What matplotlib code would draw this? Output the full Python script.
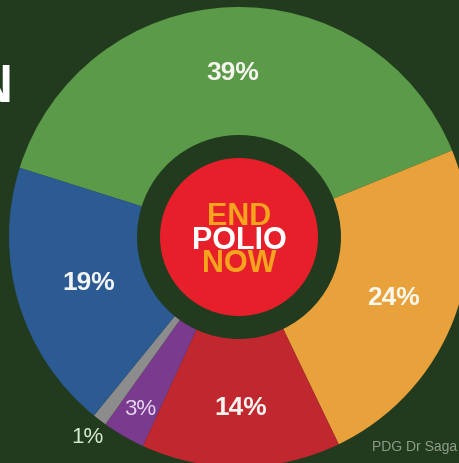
import matplotlib
matplotlib.use("Agg")
import matplotlib.pyplot as plt
import numpy as np
from matplotlib.patches import Circle

# Data
labels = ["39%", "24%", "14%", "3%", "1%", "19%"]
values = [39, 24, 14, 3, 1, 19]
colors = ["#5b9a49", "#e9a23b", "#c1272f", "#7a3a8e", "#8c8c8c", "#2c5a93"]
label_colors = ["#f4f6ee", "#fbf8ee", "#f6f2ee", "#e4d6f2", "#d6ead0", "#f2f4f6"]
label_dist = [0.72, 0.72, 0.74, 0.86, 1.09, 0.68]
label_size = [19, 19, 19, 16, 16, 19]
label_weight = ["bold", "bold", "bold", "normal", "normal", "bold"]

BG = "#223b1e"
W, H = 460, 464
fig = plt.figure(figsize=(W / 100, H / 100), dpi=100, facecolor=BG)
ax = fig.add_axes([0, 0, 1, 1])
ax.set_facecolor(BG)

cx, cy = 239, H - 238
R = 230
start = 162.5
ax.pie(values, colors=colors, startangle=start, counterclock=False,
       radius=R, center=(cx, cy),
       wedgeprops=dict(width=128, edgecolor="none", linewidth=0))

# labels at mid-angles
cum = np.cumsum([0] + values)
total = sum(values)
for i, lab in enumerate(labels):
    mid = start - 360 * (cum[i] + cum[i + 1]) / 2 / total
    r = R * label_dist[i]
    x = cx + r * np.cos(np.radians(mid))
    y = cy + r * np.sin(np.radians(mid))
    ax.text(x, y, lab, ha="center", va="center", color=label_colors[i],
            fontsize=label_size[i], fontweight=label_weight[i],
            family=["Liberation Sans", "DejaVu Sans"])

# center logo
ax.add_patch(Circle((cx, cy), 79, facecolor="#e61f2b", edgecolor="none", zorder=5))
fam = ["Liberation Sans", "DejaVu Sans"]
ax.text(cx, H - 214, "END", ha="center", va="center_baseline", color="#f6a31d",
        fontsize=22, fontweight="bold", family=fam, zorder=6)
ax.text(cx, H - 238, "POLIO", ha="center", va="center_baseline", color="#ffffff",
        fontsize=22, fontweight="bold", family=fam, zorder=7)
ax.text(cx, H - 261, "NOW", ha="center", va="center_baseline", color="#f6a31d",
        fontsize=22, fontweight="bold", family=fam, zorder=6)

# partial title letter and credit
ax.text(12, H - 88, "N", ha="right", va="center", color="#ffffff",
        fontsize=38, fontweight="bold", family=["Liberation Sans", "DejaVu Sans"])
ax.text(372, H - 447, "PDG Dr Saga", ha="left", va="center", color="#8f9e8a",
        fontsize=10, family=["Liberation Sans", "DejaVu Sans"])

ax.set_xlim(0, W)
ax.set_ylim(0, H)
ax.set_aspect("equal")
ax.axis("off")
fig.savefig("out.png", dpi=100, facecolor=BG)
